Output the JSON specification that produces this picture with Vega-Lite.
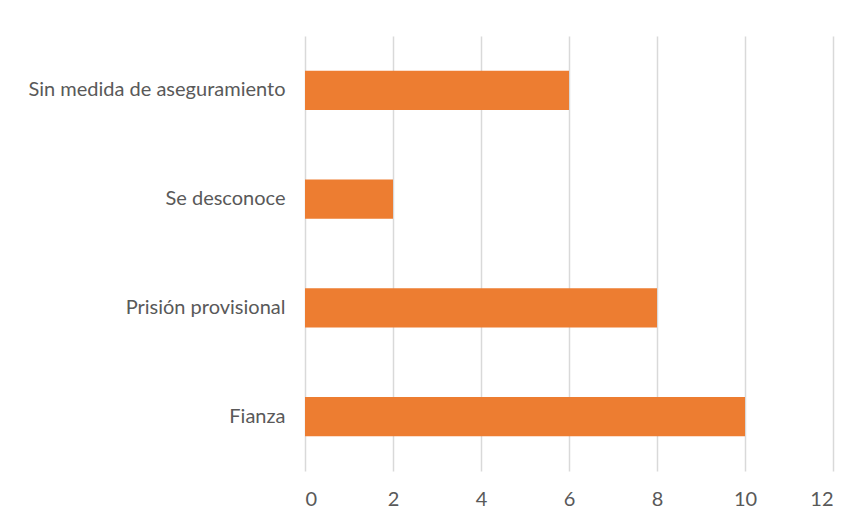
{
  "$schema": "https://vega.github.io/schema/vega-lite/v6.json",
  "width": 528,
  "height": 435,
  "autosize": {"type": "none"},
  "padding": {"left": 305, "top": 36, "right": 28, "bottom": 50},
  "background": "white",
  "data": {
    "values": [
      {"categoria": "Sin medida de aseguramiento", "valor": 6},
      {"categoria": "Se desconoce", "valor": 2},
      {"categoria": "Prisión provisional", "valor": 8},
      {"categoria": "Fianza", "valor": 10}
    ]
  },
  "mark": {"type": "bar", "color": "#ED7D31"},
  "encoding": {
    "y": {
      "field": "categoria",
      "type": "nominal",
      "sort": null,
      "scale": {"paddingInner": 0.64, "paddingOuter": 0.32},
      "axis": {
        "title": null,
        "domain": false,
        "ticks": false,
        "labelPadding": 20,
        "labelFont": "Lato",
        "labelFontSize": 20,
        "labelColor": "#595959",
        "labelLimit": 400
      }
    },
    "x": {
      "field": "valor",
      "type": "quantitative",
      "scale": {"domain": [0, 12], "nice": false},
      "axis": {
        "title": null,
        "values": [0, 2, 4, 6, 8, 10, 12],
        "domain": false,
        "ticks": false,
        "grid": true,
        "gridColor": "#D9D9D9",
        "gridWidth": 1.5,
        "labelPadding": 18,
        "labelFont": "Lato",
        "labelFontSize": 20,
        "labelColor": "#595959"
      }
    }
  },
  "config": {"view": {"stroke": null}}
}
